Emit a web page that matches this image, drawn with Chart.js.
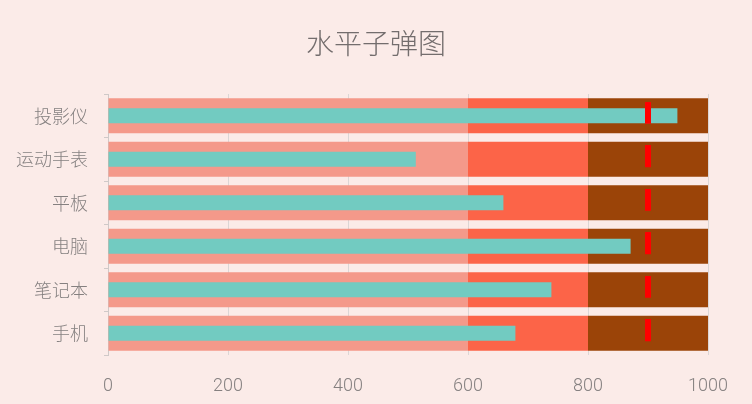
<!DOCTYPE html>
<html>
<head>
<meta charset="utf-8">
<script src="https://cdn.jsdelivr.net/npm/chart.js@4/dist/chart.umd.min.js"></script>
<style>
  html, body { margin: 0; padding: 0; background: #fbebe8; }
  #wrap { width: 752px; height: 404px; }
</style>
</head>
<body>
<div id="wrap"><canvas id="c" width="752" height="404"></canvas></div>
<script>
// categories, top to bottom
const categories = ['投影仪', '运动手表', '平板', '电脑', '笔记本', '手机'];
// actual values
const actualValues = [949, 513, 659, 871, 739, 679];
// target per category
const targetValues = [900, 900, 900, 900, 900, 900];
// qualitative range boundaries
const rangeBounds = [0, 600, 800, 1000];
const xTicks = [0, 200, 400, 600, 800, 1000];
const titleText = '水平子弹图';

const rangeColors = ['#f4998a', '#fc6448', '#9b4408'];
const textColor = '#858080';
const cjkFont = '"Noto Sans CJK SC Light", "Noto Sans CJK SC DemiLight", "Noto Sans CJK SC"';
const numFont = '"Roboto Light", Roboto, "Lato Light", Lato';

// marker image: red bar, padded at the bottom so it sits slightly above center
const marker = document.createElement('canvas');
marker.width = 6;
marker.height = 28;
const mctx = marker.getContext('2d');
mctx.fillStyle = '#ff0000';
mctx.fillRect(0, 0, 6, 22);

const bandSets = rangeColors.map((col, i) => ({
  type: 'bar',
  data: categories.map(() => [rangeBounds[i], rangeBounds[i + 1]]),
  backgroundColor: col,
  barPercentage: 0.8,
  categoryPercentage: 1,
  grouped: false,
  order: 2 + i
}));

new Chart(document.getElementById('c'), {
  type: 'bar',
  data: {
    labels: categories,
    datasets: [
      {
        type: 'scatter',
        data: categories.map((c, i) => ({ x: targetValues[i], y: c })),
        pointStyle: marker,
        pointRadius: 3,
        order: 0
      },
      {
        type: 'bar',
        data: actualValues,
        backgroundColor: '#72cbc1',
        barPercentage: 0.345,
        categoryPercentage: 1,
        grouped: false,
        order: 1
      },
      ...bandSets
    ]
  },
  options: {
    indexAxis: 'y',
    responsive: false,
    animation: false,
    devicePixelRatio: 1,
    layout: { padding: { left: 0, right: 44, top: 94, bottom: 0 } },
    scales: {
      x: {
        type: 'linear',
        min: 0,
        max: 1000,
        afterBuildTicks: (s) => { s.ticks = xTicks.map(v => ({ value: v })); },
        afterFit: (s) => { s.height = 49; },
        grid: { color: '#dcd6d5', drawTicks: false },
        border: { display: false },
        ticks: {
          padding: 20,
          color: textColor,
          callback: (v) => String(v),
          font: { family: numFont, weight: 300, size: 18 }
        }
      },
      y: {
        type: 'category',
        afterFit: (s) => { s.width = 108; },
        grid: { drawOnChartArea: false, tickLength: 4, color: '#cfc9c8' },
        border: { display: true, color: '#cfc9c8' },
        ticks: {
          padding: 16,
          color: textColor,
          font: { family: cjkFont, weight: 300, size: 18 }
        }
      }
    },
    plugins: {
      legend: { display: false },
      tooltip: { enabled: false },
      title: { display: false }
    }
  },
  plugins: [{
    id: 'bgAndTitle',
    beforeDraw: (chart) => {
      const ctx = chart.ctx;
      ctx.save();
      ctx.fillStyle = '#fbebe8';
      ctx.fillRect(0, 0, chart.width, chart.height);
      ctx.restore();
    },
    afterDraw: (chart) => {
      // title centred on the whole canvas, not on the padded box
      const ctx = chart.ctx;
      ctx.save();
      ctx.font = '300 28px ' + cjkFont;
      ctx.fillStyle = '#736d6d';
      ctx.textAlign = 'center';
      ctx.textBaseline = 'middle';
      ctx.fillText(titleText, chart.width / 2, 43);
      ctx.restore();
    }
  }]
});
</script>
</body>
</html>
